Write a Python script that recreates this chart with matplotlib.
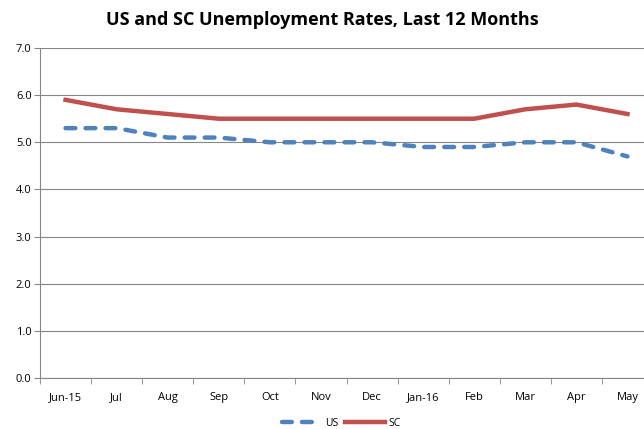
import matplotlib.pyplot as plt

months = ['Jun-15', 'Jul', 'Aug', 'Sep', 'Oct', 'Nov', 'Dec', 'Jan-16', 'Feb', 'Mar', 'Apr', 'May']
us = [5.3, 5.3, 5.1, 5.1, 5.0, 5.0, 5.0, 4.9, 4.9, 5.0, 5.0, 4.7]
sc = [5.9, 5.7, 5.6, 5.5, 5.5, 5.5, 5.5, 5.5, 5.5, 5.7, 5.8, 5.6]

plt.rcParams['font.family'] = ['Open Sans', 'DejaVu Sans']

fig = plt.figure(figsize=(6.44, 4.29), dpi=100)
# plot area runs past the right edge, as in the reference
ax = fig.add_axes([40/644, 51/429, 613/644, 330/429])

x = list(range(len(months)))
ax.plot(x, us, color='#4F81BD', lw=3.2, ls=(0, (2.2, 2.3)), label='US', dash_capstyle='round')
ax.plot(x, sc, color='#C0504D', lw=3.2, label='SC')

ax.set_xlim(-0.5, len(months) - 0.5)
ax.set_ylim(0, 7)
ax.set_yticks([i * 1.0 for i in range(8)])
ax.set_yticklabels(['%.1f' % v for v in range(8)], fontsize=8)
ax.set_xticks(x)
ax.set_xticklabels(months, fontsize=8)
ax.set_xticks([i - 0.5 for i in range(len(months) + 1)], minor=True)
ax.tick_params(axis='x', which='major', length=0, pad=10)
ax.tick_params(axis='x', which='minor', length=4, color='#868686')
ax.tick_params(axis='y', length=4, color='#868686', pad=2)
ax.grid(axis='y', color='#868686', lw=0.8)
ax.set_axisbelow(True)
for s in ['top', 'right']:
    ax.spines[s].set_visible(False)
ax.spines['left'].set_color('#868686')
ax.spines['bottom'].set_color('#868686')

fig.suptitle('US and SC Unemployment Rates, Last 12 Months', x=0.5, y=0.975, fontsize=13, fontweight='bold')
fig.legend(loc='lower center', bbox_to_anchor=(0.53, -0.022), ncol=2, frameon=False, fontsize=7.5,
           handlelength=3.8, columnspacing=0.6, handletextpad=0.4)

fig.savefig('out.png')
